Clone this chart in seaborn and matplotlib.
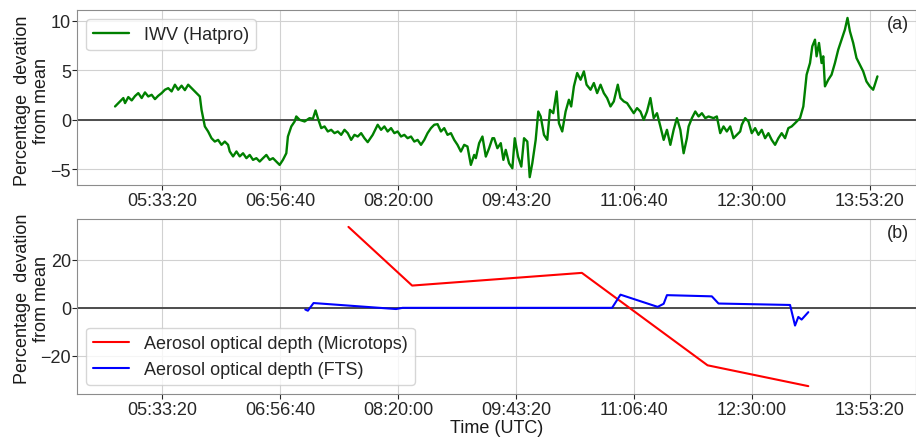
import matplotlib
matplotlib.use("Agg")
import numpy as np
import pandas as pd
import seaborn as sns
import matplotlib.pyplot as plt
from matplotlib.ticker import FuncFormatter, MultipleLocator

# ---- data (time in seconds of day, UTC) ----
iwv_time = [18000, 18211, 18351, 18423, 18562, 18706, 18846, 18985, 19129, 19269,
            19408, 19552, 19692, 19831, 19975, 20115, 20254, 20398, 20538, 20677,
            20821, 20961, 21100, 21244, 21384, 21523, 21595, 21667, 21807, 21946,
            22090, 22230, 22369, 22513, 22653, 22792, 22864, 23004, 23147, 23287,
            23427, 23570, 23710, 23850, 23993, 24133, 24273, 24416, 24556, 24696,
            24839, 24979, 25119, 25262, 25330, 25474, 25614, 25685, 25825,
            26037, 26248, 26388, 26502, 26599, 26743, 26883, 27022, 27166, 27306,
            27445, 27589, 27729, 27868, 28012, 28152, 28291, 28435, 28575, 28714,
            28926, 29137, 29281, 29421, 29560, 29704, 29844, 29983, 30127, 30267,
            30406, 30550, 30690, 30829, 30973, 31113, 31252, 31396, 31536, 31675,
            31819, 31959, 32098, 32242, 32382, 32521, 32665, 32805, 32944, 33088,
            33228, 33299, 33439, 33579, 33722, 33862, 34002,
            34074, 34213, 34357, 34467, 34568, 34708, 34848, 34949, 35089, 35228,
            35343, 35482, 35584, 35694, 35837, 35947, 36049, 36189, 36328, 36442,
            36582, 36726, 36823, 36963, 37106, 37246, 37343, 37458, 37597, 37741,
            37881, 37995, 38164, 38304, 38443, 38587, 38727, 38866, 39010, 39150,
            39319, 39433, 39573, 39712, 39856, 39996, 40135, 40279, 40419, 40558,
            40702, 40842, 40981, 41125, 41265, 41404, 41548, 41688, 41827, 41971,
            42111, 42250,
            42322, 42462, 42605, 42745, 42885, 43028, 43168, 43380, 43519, 43663,
            43803, 43942, 44086, 44226, 44365, 44509, 44577, 44720, 44860, 45000,
            45143, 45283, 45423, 45566, 45706, 45846, 45989, 46129, 46269, 46412,
            46552, 46692, 46835, 47047, 47187, 47326, 47470, 47567, 47681, 47749,
            47851, 47961, 48033, 48104, 48244, 48384, 48527, 48667, 48807, 48950,
            49060, 49162, 49302, 49441, 49585, 49725, 49864, 50008, 50148, 50219,
            50329]
iwv_dev = [1.35, 1.86, 2.2, 1.69, 2.3, 1.96, 2.4, 2.7, 2.2, 2.77,
           2.36, 2.53, 2.09, 2.43, 2.7, 3.04, 3.2, 2.87, 3.55, 3.04,
           3.45, 3.0, 3.55, 3.2, 2.87, 2.53, 2.36, 1.01, -0.67, -1.18,
           -1.86, -2.2, -2.03, -2.53, -2.2, -2.53, -3.2, -3.7, -3.2, -3.7,
           -3.38, -3.88, -3.55, -4.05, -3.88, -4.22, -3.88, -3.55, -4.05, -3.88,
           -4.22, -4.56, -4.05, -3.38, -1.69, -0.67, -0.17, 0.34, 0.0,
           -0.17, 0.17, 0.1, 0.95, 0.17, -0.84, -0.67, -1.18, -1.01, -1.35,
           -1.18, -1.52, -1.01, -1.35, -2.03, -1.52, -1.69, -1.35, -1.86, -2.26,
           -1.52, -0.5, -1.01, -0.67, -1.18, -0.84, -1.35, -1.18, -1.69, -1.52,
           -1.86, -1.69, -2.2, -2.03, -2.53, -2.03, -1.35, -0.84, -0.5, -0.44,
           -1.18, -0.84, -1.52, -1.35, -2.03, -2.53, -3.21, -2.53, -2.7, -4.56,
           -3.55, -3.88, -2.36, -1.69, -3.72, -2.87, -1.86,
           -1.86, -2.87, -2.36, -4.05, -3.04, -4.39, -4.9, -1.86, -3.72, -4.73,
           -1.86, -2.2, -5.8, -4.39, -2.03, 0.84, 0.34, -1.52, -2.03, 1.01,
           0.67, 2.87, -0.34, -1.18, 0.84, 2.03, 1.35, 3.38, 4.73, 4.05,
           4.9, 3.55, 3.04, 3.72, 2.7, 3.55, 2.7, 2.2, 1.35, 1.86,
           3.55, 2.2, 1.86, 1.69, 1.18, 0.67, 1.18, 0.84, 0.0, 0.84,
           2.2, 0.17, 0.67, -0.67, -2.03, -1.01, -2.53, -1.01, 0.17, -1.01,
           -3.38, -1.86,
           -0.67, 0.17, 0.84, 0.34, 0.67, 0.17, 0.34, 0.17, 0.34, -1.35,
           -0.67, -1.18, -0.67, -1.86, -1.52, -1.18, -0.5, 0.17, -0.17, -1.35,
           -0.84, -1.52, -1.01, -1.86, -1.35, -2.03, -2.53, -1.86, -1.35, -1.86,
           -0.84, -0.67, -0.34, 0.17, 1.35, 4.56, 5.74, 7.43, 8.1, 6.42,
           7.77, 5.74, 6.42, 3.38, 4.05, 4.56, 5.74, 7.09, 8.1, 9.12,
           10.3, 8.95, 7.77, 6.25, 5.57, 4.9, 3.88, 3.38, 3.04, 3.55,
           4.39]

mt_time = [27897, 30597, 37796, 43126, 47398]
mt_dev = [33.8, 9.3, 14.6, -24.0, -32.7]

fts_time = [26066, 26176, 26417, 29915, 30194, 39077, 39433, 41010, 41264,
            41404, 43307, 43591, 46624, 46835, 46975, 47114, 47398]
fts_dev = [-0.7, -1.2, 2.0, -0.5, 0.0, 0.0, 5.5, 0.4, 1.7,
           5.3, 4.8, 1.8, 1.2, -7.4, -3.8, -4.9, -1.8]

ylabel = "Percentage  devation\nfrom mean"

sns.set_style("whitegrid", {
    "axes.edgecolor": "0.55",
    "grid.color": "0.82",
    "xtick.bottom": True,
    "ytick.left": True,
})
plt.rcParams["font.family"] = ["Liberation Sans", "DejaVu Sans"]
plt.rcParams["font.size"] = 13
plt.rcParams["xtick.major.size"] = 3.5
plt.rcParams["ytick.major.size"] = 3.5
plt.rcParams["xtick.major.pad"] = 1.5
plt.rcParams["ytick.major.pad"] = 0.8
plt.rcParams["xtick.color"] = "0.15"
plt.rcParams["ytick.color"] = "0.15"
plt.rcParams["axes.labelcolor"] = "0.1"

fig, (ax1, ax2) = plt.subplots(2, 1, figsize=(9.16, 4.39), dpi=100)
fig.subplots_adjust(left=0.084, right=0.9995, top=0.975, bottom=0.10, hspace=0.193)

df_iwv = pd.DataFrame({"t": iwv_time, "v": iwv_dev})
df_mt = pd.DataFrame({"t": mt_time, "v": mt_dev})
df_fts = pd.DataFrame({"t": fts_time, "v": fts_dev})


def hms(s, pos=None):
    s = int(round(s))
    return f"{s // 3600:02d}:{(s % 3600) // 60:02d}:{s % 60:02d}"


ax1.axhline(0, color="0.3", lw=1.4, zorder=1)
sns.lineplot(data=df_iwv, x="t", y="v", ax=ax1, color="green", lw=1.7,
             sort=False, estimator=None, label="IWV (Hatpro)")
ax1.set_xlabel("")
ax1.set_ylabel(ylabel, fontsize=13)
ax1.yaxis.set_label_coords(-0.032, 0.485)
ax1.set_yticks([-5, 0, 5, 10])
ax1.legend(loc="upper left", fontsize=13)
ax1.text(0.992, 0.925, "(a)", transform=ax1.transAxes, ha="right", va="center", fontsize=13)
ax1.xaxis.set_major_locator(MultipleLocator(5000))
ax1.xaxis.set_major_formatter(FuncFormatter(hms))
xlim = ax1.get_xlim()

ax2.axhline(0, color="0.3", lw=1.4, zorder=1)
sns.lineplot(data=df_mt, x="t", y="v", ax=ax2, color="red", lw=1.5,
             sort=False, estimator=None, label="Aerosol optical depth (Microtops)")
sns.lineplot(data=df_fts, x="t", y="v", ax=ax2, color="blue", lw=1.5,
             sort=False, estimator=None, label="Aerosol optical depth (FTS)")
ax2.set_xlim(xlim)
ax2.set_yticks([-20, 0, 20])
ax2.set_xlabel("Time (UTC)", fontsize=13, labelpad=1)
ax2.set_ylabel(ylabel, fontsize=13)
ax2.yaxis.set_label_coords(-0.032, 0.55)
ax2.legend(loc="lower left", fontsize=13)
ax2.text(0.992, 0.925, "(b)", transform=ax2.transAxes, ha="right", va="center", fontsize=13)
ax2.xaxis.set_major_locator(MultipleLocator(5000))
ax2.xaxis.set_major_formatter(FuncFormatter(hms))

fig.savefig("out.png", dpi=100)
